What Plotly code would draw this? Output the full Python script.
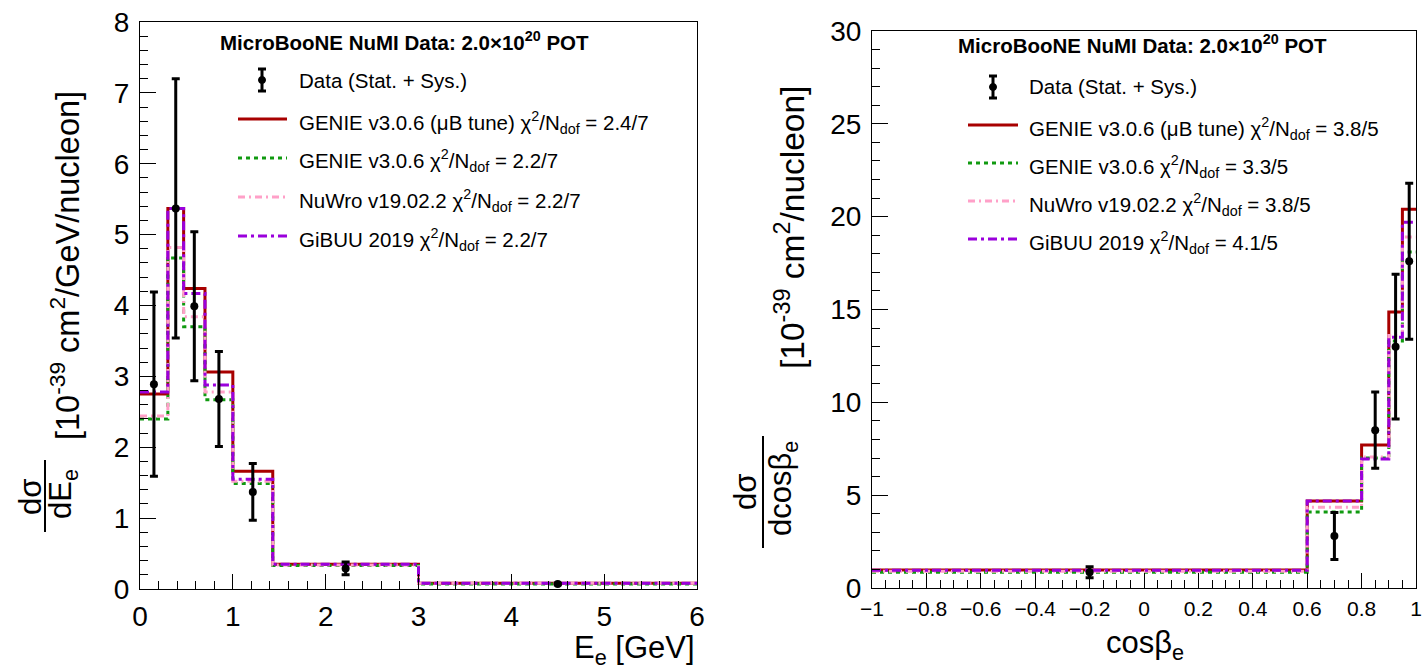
import plotly.graph_objects as go

W, H = 1422, 669
FONT = "Liberation Sans, Arial, Helvetica, sans-serif"

# ---------------- electron energy panel ----------------
ee_edges = [0.0, 0.3, 0.47, 0.7, 1.0, 1.43, 3.0, 6.0]
ee_genie_ub = [2.75, 5.37, 4.24, 3.06, 1.66, 0.35, 0.08]
ee_genie = [2.40, 4.67, 3.70, 2.67, 1.49, 0.33, 0.07]
ee_nuwro = [2.44, 4.82, 3.84, 2.78, 1.52, 0.34, 0.08]
ee_gibuu = [2.78, 5.37, 4.17, 2.88, 1.55, 0.35, 0.08]
ee_data_x = [0.15, 0.385, 0.585, 0.85, 1.215, 2.215, 4.5]
ee_data = [2.89, 5.37, 3.99, 2.68, 1.37, 0.29, 0.07]
ee_err = [1.30, 1.83, 1.05, 0.67, 0.40, 0.09, 0.01]
ee_chi2 = ["2.4/7", "2.2/7", "2.2/7", "2.2/7"]

# ---------------- electron angle panel ----------------
cb_edges = [-1.0, 0.6, 0.8, 0.9, 0.95, 1.0]
cb_genie_ub = [0.97, 4.68, 7.70, 14.86, 20.4]
cb_genie = [0.85, 4.10, 7.00, 13.3, 18.1]
cb_nuwro = [0.90, 4.35, 7.05, 13.6, 18.9]
cb_gibuu = [0.95, 4.68, 6.95, 13.5, 19.7]
cb_data_x = [-0.2, 0.7, 0.85, 0.925, 0.975]
cb_data = [0.85, 2.8, 8.5, 13.0, 17.6]
cb_err = [0.30, 1.27, 2.05, 3.9, 4.2]
cb_chi2 = ["3.8/5", "3.3/5", "3.8/5", "4.1/5"]
cb_tickvals = [-1, -0.8, -0.6, -0.4, -0.2, 0, 0.2, 0.4, 0.6, 0.8, 1]
cb_ticktext = ["\u22121", "\u22120.8", "\u22120.6", "\u22120.4", "\u22120.2",
               "0", "0.2", "0.4", "0.6", "0.8", "1"]

model_names = ["GENIE v3.0.6 (\u03bcB tune)", "GENIE v3.0.6",
               "NuWro v19.02.2", "GiBUU 2019"]
model_colors = ["#a80000", "#109a10", "#ffa0c8", "#9a00dc"]
model_dash = ["solid", "4px,4px", "7px,4px,2px,4px", "9px,4px,3px,4px"]
model_width = [3, 3, 3, 3]


def X(px):
    return px / W


def Y(py):
    return 1 - py / H


fig = go.Figure()


def add_panel(edges, models, dx, dy, derr, xa, ya):
    for vals, col, dash, lw in zip(models, model_colors, model_dash, model_width):
        fig.add_trace(go.Scatter(
            x=edges, y=list(vals) + [vals[-1]], mode="lines", line_shape="hv",
            line=dict(color=col, width=lw, dash=dash),
            xaxis=xa, yaxis=ya, showlegend=False, hoverinfo="skip"))
    fig.add_trace(go.Scatter(
        x=dx, y=dy, mode="markers", marker=dict(color="black", size=8),
        error_y=dict(type="data", array=derr, color="black", thickness=3, width=4),
        xaxis=xa, yaxis=ya, showlegend=False))


add_panel(ee_edges, [ee_genie_ub, ee_genie, ee_nuwro, ee_gibuu],
          ee_data_x, ee_data, ee_err, "x", "y")
add_panel(cb_edges, [cb_genie_ub, cb_genie, cb_nuwro, cb_gibuu],
          cb_data_x, cb_data, cb_err, "x2", "y2")

shapes = []
annotations = []


def text(px, py, s, size, xanchor="left", yanchor="middle", angle=0):
    annotations.append(dict(
        x=X(px), y=Y(py), xref="paper", yref="paper", text=s, showarrow=False,
        xanchor=xanchor, yanchor=yanchor, textangle=angle,
        font=dict(family=FONT, size=size, color="black")))


def seg(x0, y0, x1, y1, color="black", width=2, dash="solid"):
    shapes.append(dict(type="line", xref="paper", yref="paper",
                       x0=X(x0), y0=Y(y0), x1=X(x1), y1=Y(y1),
                       line=dict(color=color, width=width, dash=dash)))


def legend(title_x, title_y, sym_x, line_x0, line_x1, text_x, data_y, rows_y, chi2):
    text(title_x, title_y,
         "<b>MicroBooNE NuMI Data: 2.0\u00d710<sup>20</sup> POT</b>", 20.5)
    # data symbol: error bar with a point
    seg(sym_x, data_y - 11, sym_x, data_y + 11, width=3)
    seg(sym_x - 4, data_y - 11, sym_x + 4, data_y - 11, width=3)
    seg(sym_x - 4, data_y + 11, sym_x + 4, data_y + 11, width=3)
    shapes.append(dict(type="circle", xref="paper", yref="paper",
                       x0=X(sym_x - 3.5), x1=X(sym_x + 3.5),
                       y0=Y(data_y + 3.5), y1=Y(data_y - 3.5),
                       fillcolor="black", line=dict(color="black", width=1)))
    text(text_x, data_y, "Data (Stat. + Sys.)", 20.5)
    for name, c2, ry, col, dash in zip(model_names, chi2, rows_y,
                                       model_colors, model_dash):
        seg(line_x0, ry, line_x1, ry, color=col, width=3, dash=dash)
        text(text_x, ry + 3,
             f"{name} \u03c7<sup>2</sup>/N<sub>dof</sub> = {c2}", 20.5)


legend(218, 41, 262, 238, 287, 297, 80, [119, 158, 197, 236], ee_chi2)
legend(956, 44, 993, 968, 1018, 1027, 87, [125, 163, 201, 239], cb_chi2)

# axis titles
text(697, 650, "E<sub>e</sub> [GeV]", 31, xanchor="right")
text(1145, 645, "cos\u03b2<sub>e</sub>", 31, xanchor="center")

# left y title: fraction + units
text(30, 497, "d\u03c3", 31, xanchor="center", angle=-90)
seg(45, 460, 45, 532, width=2)
text(63, 494, "dE<sub>e</sub>", 31, xanchor="center", angle=-90)
text(65, 266, "[10<sup>-39</sup> cm<sup>2</sup>/GeV/nucleon]", 32.5,
     xanchor="center", angle=-90)

# right y title: fraction + units
text(745, 492, "d\u03c3", 31, xanchor="center", angle=-90)
seg(763, 436, 763, 548, width=2)
text(783, 489, "dcos\u03b2<sub>e</sub>", 31, xanchor="center", angle=-90)
text(790, 228, "[10<sup>-39</sup> cm<sup>2</sup>/nucleon]", 33.5,
     xanchor="center", angle=-90)

axis_common = dict(showgrid=False, zeroline=False, showline=True, mirror=True,
                   linecolor="black", linewidth=1.2, ticks="inside",
                   tickcolor="black", tickwidth=1.2, automargin=False)

fig.update_layout(
    width=W, height=H, margin=dict(l=0, r=0, t=0, b=0, autoexpand=False),
    paper_bgcolor="white", plot_bgcolor="white", showlegend=False,
    shapes=shapes, annotations=annotations,
    xaxis=dict(domain=[X(140), X(697)], range=[0, 6], anchor="y",
               tickmode="linear", tick0=0, dtick=1, ticklen=15,
               minor=dict(ticks="inside", dtick=0.2, ticklen=8,
                          tickcolor="black", tickwidth=1.2),
               tickfont=dict(family=FONT, size=28, color="black"),
               ticklabelstandoff=2, **axis_common),
    yaxis=dict(domain=[Y(589), Y(22)], range=[0, 8], anchor="x",
               tickmode="linear", tick0=0, dtick=1, ticklen=16,
               minor=dict(ticks="inside", dtick=0.2, ticklen=8,
                          tickcolor="black", tickwidth=1.2),
               tickfont=dict(family=FONT, size=28, color="black"),
               ticklabelstandoff=4, **axis_common),
    xaxis2=dict(domain=[X(872), X(1416)], range=[-1, 1], anchor="y2",
                tickmode="array", tickvals=cb_tickvals, ticktext=cb_ticktext,
                ticklen=15,
                minor=dict(ticks="inside", dtick=0.05, ticklen=8,
                           tickcolor="black", tickwidth=1.2),
                tickfont=dict(family=FONT, size=21, color="black"),
                ticklabelstandoff=2, **axis_common),
    yaxis2=dict(domain=[Y(588), Y(31)], range=[0, 30], anchor="x2",
                tickmode="linear", tick0=0, dtick=5, ticklen=16,
                minor=dict(ticks="inside", dtick=1, ticklen=8,
                           tickcolor="black", tickwidth=1.2),
                tickfont=dict(family=FONT, size=28, color="black"),
                ticklabelstandoff=4, **axis_common),
)

fig.write_html("out.html")
